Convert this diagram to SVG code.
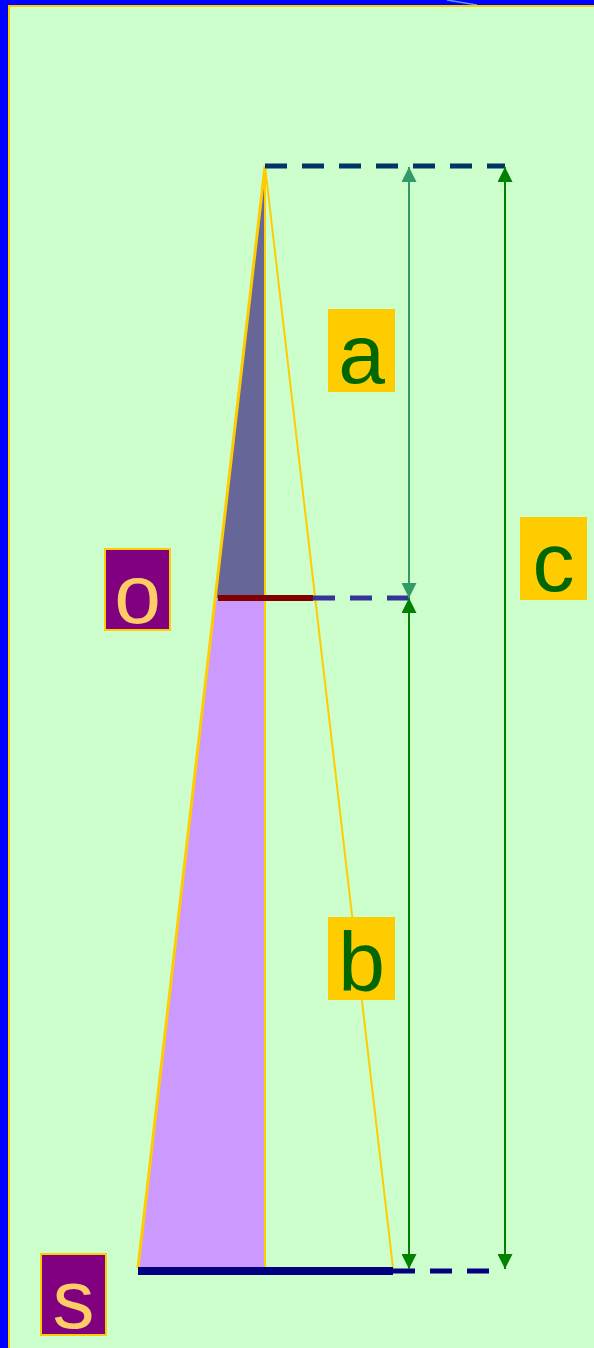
<svg xmlns="http://www.w3.org/2000/svg" width="594" height="1348" viewBox="0 0 594 1348">
<style>
.lbl{fill:#ffcc00}
.lt{font-family:"Liberation Sans",Arial,sans-serif;font-size:84px;fill:#006600;text-anchor:middle}
.pt{font-family:"Liberation Sans",Arial,sans-serif;font-size:84px;fill:#ffcc66;text-anchor:middle}
.pb{fill:#800080;stroke:#ffcc00;stroke-width:2}
.dash{stroke-width:5;stroke-dasharray:22 15;fill:none}
</style>
<defs>
<marker id="ha" viewBox="0 0 10 10" refX="10" refY="5" markerWidth="15" markerHeight="15" markerUnits="userSpaceOnUse" orient="auto-start-reverse"><path d="M0,0 L10,5 L0,10 Z" fill="#339966"/></marker>
<marker id="hg" viewBox="0 0 10 10" refX="10" refY="5" markerWidth="15" markerHeight="15" markerUnits="userSpaceOnUse" orient="auto-start-reverse"><path d="M0,0 L10,5 L0,10 Z" fill="#008000"/></marker>
</defs>
<rect x="0" y="0" width="594" height="1348" fill="#ccffcc"/>
<rect x="0" y="0" width="594" height="5" fill="#0000ff"/>
<rect x="0" y="0" width="8" height="1348" fill="#0000ff"/>
<line x1="447" y1="0" x2="477" y2="5" stroke="#5599ff" stroke-width="1.5"/>
<line x1="8" y1="6" x2="594" y2="6" stroke="#ffcc00" stroke-width="2"/>
<line x1="9" y1="6" x2="9" y2="1348" stroke="#ffcc00" stroke-width="2"/>
<g id="cone">
<polygon points="265,166 215,598 265,598" fill="#666699"/>
<polygon points="215,598 138,1268 265,1268 265,598" fill="#cc99ff"/>
<line x1="265" y1="166" x2="138" y2="1268" stroke="#ffcc00" stroke-width="3"/>
<line x1="265" y1="166" x2="393" y2="1268" stroke="#ffcc00" stroke-width="2"/>
<line x1="265" y1="166" x2="265" y2="1268" stroke="#ffcc00" stroke-width="2"/>
<line x1="218" y1="598" x2="313" y2="598" stroke="#800000" stroke-width="6"/>
<line x1="138" y1="1271" x2="393" y2="1271" stroke="#000080" stroke-width="8"/>
</g>
<g id="connectors">
<line class="dash" x1="265" y1="166" x2="505" y2="166" stroke="#003366"/>
<line class="dash" x1="313" y1="598" x2="409" y2="598" stroke="#333399"/>
<line class="dash" x1="393" y1="1271" x2="490" y2="1271" stroke="#000080"/>
<line x1="409" y1="167" x2="409" y2="598" stroke="#339966" stroke-width="2" marker-start="url(#ha)" marker-end="url(#ha)"/>
<line x1="409" y1="598" x2="409" y2="1269" stroke="#008000" stroke-width="2" marker-start="url(#hg)" marker-end="url(#hg)"/>
<line x1="505" y1="167" x2="505" y2="1269" stroke="#008000" stroke-width="2" marker-start="url(#hg)" marker-end="url(#hg)"/>
</g>
<g id="label-a"><rect class="lbl" x="328" y="309" width="67" height="83"/><text class="lt" x="361.5" y="383">a</text></g>
<g id="label-b"><rect class="lbl" x="328" y="917" width="67" height="83"/><text class="lt" x="361.5" y="991">b</text></g>
<g id="label-c"><rect class="lbl" x="520" y="517" width="67" height="83"/><text class="lt" x="553.5" y="591">c</text></g>
<g id="label-o"><rect class="pb" x="105" y="549" width="65" height="81"/><text class="pt" x="137.5" y="623">o</text></g>
<g id="label-s"><rect class="pb" x="41" y="1254" width="65" height="81"/><text class="pt" x="73.5" y="1328">s</text></g>
</svg>
